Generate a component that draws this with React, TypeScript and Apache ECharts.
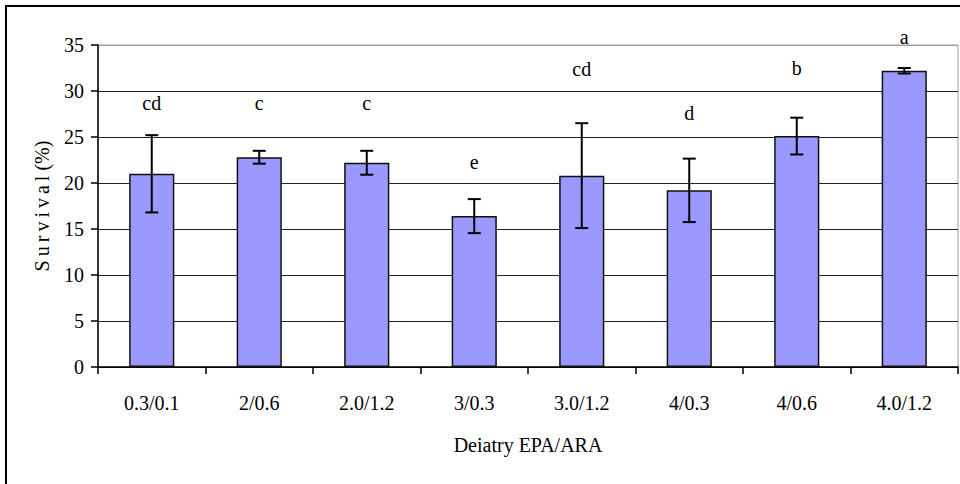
import React, { useEffect, useRef } from "react";
import * as echarts from "echarts";

const categories = ["0.3/0.1", "2/0.6", "2.0/1.2", "3/0.3", "3.0/1.2", "4/0.3", "4/0.6", "4.0/1.2"];
const survival = [21.0, 22.8, 22.2, 16.4, 20.8, 19.2, 25.1, 32.2];
const errorSD = [4.2, 0.7, 1.3, 1.85, 5.7, 3.45, 2.0, 0.3];
const letters = ["cd", "c", "c", "e", "cd", "d", "b", "a"];
const letterLevel = [28.7, 28.7, 28.7, 22.3, 32.4, 27.6, 32.5, 35.9];
const yTicks = { min: 0, max: 35, interval: 5 };
const yTitle = "S\u2009u\u2009r\u2009v\u2009i\u2009v\u2009a\u2009l (%)";
const xTitle = "Deiatry EPA/ARA";

const FONT = "Liberation Serif, Times New Roman, serif";

export default function App() {
  const ref = useRef<HTMLDivElement>(null);
  useEffect(() => {
    if (!ref.current) return;
    const chart = echarts.init(ref.current, null, { renderer: "svg" });
    const errData = survival.map((v, i) => [i, v - errorSD[i], v + errorSD[i]]);
    const letterData = letters.map((l, i) => [i, letterLevel[i], l]);
    chart.setOption({
      animation: false,
      backgroundColor: "#ffffff",
      textStyle: { fontFamily: FONT },
      graphic: [
        {
          type: "rect",
          shape: { x: 6, y: 6, width: 1000, height: 1000 },
          style: { fill: "none", stroke: "#000", lineWidth: 2 },
          silent: true,
        },
      ],
      grid: {
        left: 98,
        right: 2,
        top: 45,
        bottom: 117,
        show: true,
        borderColor: "#a0a0a0",
        borderWidth: 1,
        backgroundColor: "transparent",
      },
      xAxis: {
        type: "category",
        data: categories,
        name: xTitle,
        nameLocation: "middle",
        nameGap: 68,
        nameTextStyle: { fontFamily: FONT, fontSize: 20, color: "#000" },
        axisLine: { lineStyle: { color: "#000", width: 1.5 } },
        axisTick: { show: true, length: 7, lineStyle: { color: "#000", width: 1.5 } },
        axisLabel: { fontFamily: FONT, fontSize: 20, color: "#000", margin: 26 },
        splitLine: { show: false },
      },
      yAxis: {
        type: "value",
        min: yTicks.min,
        max: yTicks.max,
        interval: yTicks.interval,
        name: yTitle,
        nameLocation: "middle",
        nameGap: 46,
        nameTextStyle: { fontFamily: FONT, fontSize: 20, color: "#000" },
        axisLine: { show: true, lineStyle: { color: "#000", width: 1.5 } },
        axisTick: { show: true, length: 7, lineStyle: { color: "#000", width: 1.5 } },
        axisLabel: { fontFamily: FONT, fontSize: 20, color: "#000", margin: 14 },
        splitLine: {
          show: true,
          lineStyle: {
            color: ["#222", "#222", "#222", "#222", "#222", "#222", "#222", "#a0a0a0"],
            width: 1,
          },
        },
      },
      series: [
        {
          type: "bar",
          data: survival,
          barWidth: "42%",
          itemStyle: { color: "#9999ff", borderColor: "#111", borderWidth: 1.5 },
          z: 2,
        },
        {
          type: "custom",
          data: errData,
          z: 5,
          clip: false,
          renderItem: (params: any, api: any) => {
            const i = api.value(0);
            const lo = api.coord([i, api.value(1)]);
            const hi = api.coord([i, api.value(2)]);
            const w = 6.5;
            const style = { stroke: "#000", lineWidth: 2 };
            return {
              type: "group",
              children: [
                { type: "line", shape: { x1: hi[0], y1: hi[1], x2: lo[0], y2: lo[1] }, style },
                { type: "line", shape: { x1: hi[0] - w, y1: hi[1], x2: hi[0] + w, y2: hi[1] }, style },
                { type: "line", shape: { x1: lo[0] - w, y1: lo[1], x2: lo[0] + w, y2: lo[1] }, style },
              ],
            };
          },
        },
        {
          type: "custom",
          data: letterData,
          z: 6,
          clip: false,
          renderItem: (params: any, api: any) => {
            const idx = params.dataIndex;
            const p = api.coord([api.value(0), api.value(1)]);
            return {
              type: "text",
              x: p[0],
              y: p[1],
              style: {
                text: letters[idx],
                fontFamily: FONT,
                fontSize: 20,
                fill: "#000",
                align: "center",
                verticalAlign: "middle",
              },
            };
          },
        },
      ],
    });
    return () => chart.dispose();
  }, []);
  return (
    <div
      ref={ref}
      style={{ position: "fixed", left: 0, top: 0, width: 960, height: 484, background: "#fff" }}
    />
  );
}
